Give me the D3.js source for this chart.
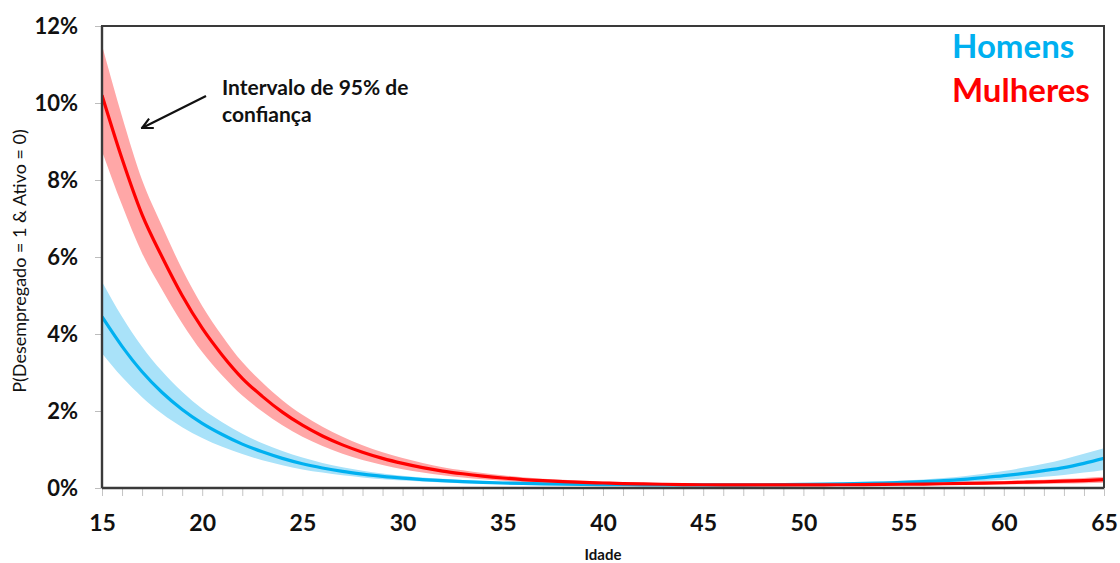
<!DOCTYPE html>
<html>
<head>
<meta charset="utf-8">
<script src="https://cdn.jsdelivr.net/npm/d3@7"></script>
<style>
  html, body { margin: 0; padding: 0; background: #fff; }
  svg { display: block; font-family: Lato, "Open Sans", sans-serif; }
</style>
</head>
<body>
<svg id="chart" width="1120" height="563"></svg>
<script>
// ---- data (percent) ----
const ages = [15,16,17,18,19,20,21,22,23,24,25,26,27,28,29,30,31,32,33,34,35,36,37,38,39,40,
              41,42,43,44,45,46,47,48,49,50,51,52,53,54,55,56,57,58,59,60,61,62,63,64,65];

const mulheres = [10.2,8.55,7.1,6.0,5.0,4.15,3.45,2.85,2.38,1.97,1.63,1.35,1.12,0.93,0.77,0.64,0.53,0.44,0.37,0.31,0.26,
                  0.22,0.19,0.165,0.145,0.13,0.115,0.105,0.097,0.09,0.085,0.082,0.08,0.079,0.079,0.08,0.082,0.085,0.088,
                  0.092,0.097,0.103,0.11,0.118,0.127,0.137,0.149,0.162,0.177,0.194,0.215];
const mulheresLo = [8.75,7.35,6.1,5.15,4.28,3.53,2.92,2.4,1.99,1.63,1.33,1.09,0.89,0.73,0.6,0.49,0.4,0.33,0.27,0.225,0.187,
                  0.157,0.134,0.115,0.101,0.09,0.08,0.073,0.068,0.063,0.06,0.058,0.056,0.055,0.055,0.056,0.057,0.059,0.061,
                  0.064,0.067,0.071,0.075,0.08,0.086,0.092,0.099,0.107,0.116,0.126,0.137];
const mulheresHi = [11.5,9.65,8.0,6.8,5.68,4.73,3.95,3.27,2.74,2.28,1.9,1.59,1.33,1.11,0.93,0.78,0.65,0.54,0.46,0.39,0.33,
                  0.28,0.243,0.213,0.189,0.17,0.15,0.137,0.126,0.117,0.11,0.106,0.104,0.103,0.103,0.104,0.107,0.111,0.115,
                  0.12,0.127,0.135,0.145,0.156,0.169,0.183,0.199,0.217,0.238,0.262,0.289];

const homens = [4.45,3.68,3.02,2.48,2.04,1.68,1.39,1.14,0.94,0.77,0.63,0.52,0.43,0.36,0.30,0.255,0.22,0.19,0.165,0.145,0.13,
                0.118,0.108,0.10,0.094,0.089,0.085,0.082,0.08,0.079,0.079,0.08,0.082,0.085,0.089,0.094,0.10,0.108,0.118,
                0.13,0.145,0.165,0.19,0.225,0.27,0.32,0.38,0.45,0.53,0.64,0.77];
const homensLo = [3.5,2.88,2.36,1.93,1.58,1.3,1.07,0.88,0.72,0.59,0.48,0.4,0.33,0.275,0.23,0.195,0.168,0.145,0.126,0.111,0.099,
                0.09,0.083,0.077,0.072,0.068,0.065,0.063,0.061,0.06,0.06,0.06,0.061,0.063,0.066,0.069,0.073,0.078,0.084,
                0.092,0.102,0.114,0.13,0.152,0.18,0.21,0.245,0.29,0.34,0.4,0.47];
const homensHi = [5.36,4.45,3.67,3.03,2.5,2.06,1.71,1.41,1.16,0.96,0.79,0.65,0.54,0.45,0.375,0.32,0.275,0.238,0.207,0.182,0.163,
                0.148,0.135,0.125,0.118,0.112,0.107,0.103,0.101,0.1,0.1,0.102,0.105,0.109,0.115,0.122,0.131,0.142,0.156,
                0.173,0.194,0.222,0.258,0.307,0.37,0.44,0.53,0.63,0.75,0.89,1.03];

const yTicks = [0,2,4,6,8,10,12];
const xTicks = [15,20,25,30,35,40,45,50,55,60,65];
const legendLabels = ["Homens","Mulheres"];
const annotationLines = ["Intervalo de 95% de","confiança"];
const xTitle = "Idade";
const yTitle = "P(Desempregado = 1 & Ativo = 0)";

// ---- layout ----
const svg = d3.select("#chart");
const L = 102, R = 1104, T = 26, B = 488;
const x = d3.scaleLinear().domain([15,65]).range([L,R]);
const y = d3.scaleLinear().domain([0,12]).range([B,T]);

const colBlue = "#00B0F0", colBlueBand = "#A9E2F9";
const colRed = "#FF0000", colRedBand = "#FFA7A7";

const rows = ages.map((a,i)=>({a, m:mulheres[i], mLo:mulheresLo[i], mHi:mulheresHi[i],
                                 h:homens[i], hLo:homensLo[i], hHi:homensHi[i]}));

const defs = svg.append("defs");
defs.append("clipPath").attr("id","plotclip")
  .append("rect").attr("x",L).attr("y",T).attr("width",R-L).attr("height",B-T);

const g = svg.append("g").attr("clip-path","url(#plotclip)");
const curve = d3.curveMonotoneX;

// bands
g.append("path").datum(rows)
  .attr("fill",colBlueBand)
  .attr("d", d3.area().curve(curve).x(d=>x(d.a)).y0(d=>y(d.hLo)).y1(d=>y(d.hHi)));
g.append("path").datum(rows)
  .attr("fill",colRedBand)
  .attr("d", d3.area().curve(curve).x(d=>x(d.a)).y0(d=>y(d.mLo)).y1(d=>y(d.mHi)));

// lines
g.append("path").datum(rows)
  .attr("fill","none").attr("stroke",colBlue).attr("stroke-width",3.2)
  .attr("d", d3.line().curve(curve).x(d=>x(d.a)).y(d=>y(d.h)));
g.append("path").datum(rows)
  .attr("fill","none").attr("stroke",colRed).attr("stroke-width",3.2)
  .attr("d", d3.line().curve(curve).x(d=>x(d.a)).y(d=>y(d.m)));

// frame
svg.append("rect").attr("x",L).attr("y",T).attr("width",R-L).attr("height",B-T)
  .attr("fill","none").attr("stroke","#3a3a3a").attr("stroke-width",2);

// y axis
const yAxis = d3.axisLeft(y).tickValues(yTicks).tickFormat(d=>d+"%").tickSize(7).tickPadding(17);
const ya = svg.append("g").attr("transform",`translate(${L},0)`).call(yAxis);
ya.select(".domain").remove();
ya.selectAll(".tick line").attr("stroke","#bdbdbd").attr("stroke-width",1);
ya.selectAll(".tick text").attr("font-size",22).attr("font-weight","bold").attr("fill","#111")
  .attr("font-family","Lato, sans-serif").attr("dy","0.35em");

// x axis: minor ticks every year
const xMinor = d3.axisBottom(x).tickValues(ages).tickFormat("").tickSize(8);
const xm = svg.append("g").attr("transform",`translate(0,${B})`).call(xMinor);
xm.select(".domain").remove();
xm.selectAll(".tick line").attr("stroke","#c4c4c4").attr("stroke-width",1);

const xAxis = d3.axisBottom(x).tickValues(xTicks).tickFormat(d3.format("d")).tickSize(0).tickPadding(27);
const xa = svg.append("g").attr("transform",`translate(0,${B})`).call(xAxis);
xa.select(".domain").remove();
xa.selectAll(".tick text").attr("font-size",23).attr("font-weight","bold").attr("fill","#111")
  .attr("font-family","Lato, sans-serif");

// left & bottom axis lines
svg.append("line").attr("x1",L).attr("x2",R).attr("y1",B).attr("y2",B).attr("stroke","#3a3a3a").attr("stroke-width",2.4);
svg.append("line").attr("x1",L).attr("x2",L).attr("y1",T).attr("y2",B).attr("stroke","#3a3a3a").attr("stroke-width",2.4);

// axis titles
svg.append("text").attr("x",(L+R)/2).attr("y",560).attr("text-anchor","middle")
  .attr("font-size",15).attr("font-weight","bold").attr("fill","#111").text(xTitle);
svg.append("text").attr("transform",`translate(26,261) rotate(-90)`).attr("text-anchor","middle")
  .attr("font-size",18).attr("fill","#111").text(yTitle);

// legend
const legendColors = [colBlue, colRed];
svg.selectAll("text.legend").data(legendLabels).join("text").attr("class","legend")
  .attr("x",952).attr("y",(d,i)=>58+i*43.5).attr("text-anchor","start")
  .attr("font-size",33).attr("font-weight","bold").attr("fill",(d,i)=>legendColors[i]).text(d=>d);

// annotation
svg.selectAll("text.annot").data(annotationLines).join("text").attr("class","annot")
  .attr("x",222).attr("y",(d,i)=>95+i*27).attr("font-size",21).attr("font-weight","bold")
  .attr("fill","#111").text(d=>d);

defs.append("marker").attr("id","arrowhead").attr("viewBox","0 0 10 10")
  .attr("refX",9).attr("refY",5).attr("markerWidth",6).attr("markerHeight",6).attr("orient","auto")
  .append("path").attr("d","M1,1 L9,5 L1,9").attr("fill","none").attr("stroke","#111").attr("stroke-width",1.6);
svg.append("line").attr("x1",206).attr("y1",96).attr("x2",142).attr("y2",128)
  .attr("stroke","#111").attr("stroke-width",2.2).attr("marker-end","url(#arrowhead)");
</script>
</body>
</html>
